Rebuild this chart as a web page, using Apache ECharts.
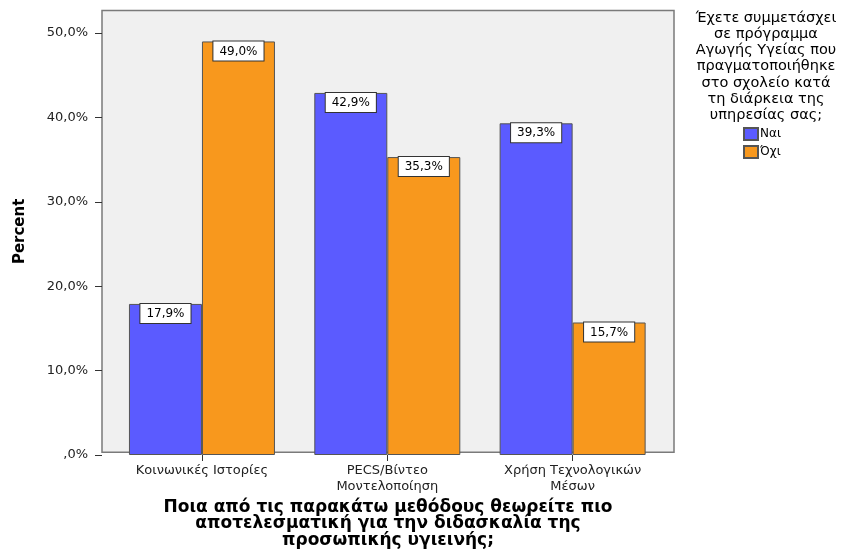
<!DOCTYPE html>
<html><head><meta charset="utf-8">
<script src="https://cdn.jsdelivr.net/npm/echarts@6/dist/echarts.min.js"></script>
<style>html,body{margin:0;padding:0;background:#fff}#c{width:855px;height:554px}</style>
</head><body><div id="c"></div>
<script>
const categories = ['Κοινωνικές Ιστορίες', 'PECS/Βίντεο\nΜοντελοποίηση', 'Χρήση Τεχνολογικών\nΜέσων'];
const seriesNames = ['Ναι', 'Όχι'];
const valuesYes = [17.9, 42.9, 39.3];
const valuesNo = [49.0, 35.3, 15.7];
const yMin = 0, yMax = 50, yInterval = 10;
const legendTitle = 'Έχετε συμμετάσχει\nσε πρόγραμμα\nΑγωγής Υγείας που\nπραγματοποιήθηκε\nστο σχολείο κατά\nτη διάρκεια της\nυπηρεσίας σας;';
const xTitle = 'Ποια από τις παρακάτω μεθόδους θεωρείτε πιο\nαποτελεσματική για την διδασκαλία της\nπροσωπικής υγιεινής;';
const yTitle = 'Percent';

const FONT = '"DejaVu Sans", "Liberation Sans", Arial, sans-serif';
const colors = ['#5B5BFF', '#F8981D'];
const fmt = v => (v === 0 ? ',0%' : v.toFixed(1).replace('.', ',') + '%');

const chart = echarts.init(document.getElementById('c'), null, {renderer: 'canvas'});
const labelStyle = {
  show: true, position: 'insideTop', distance: 0,
  formatter: p => fmt(p.value),
  fontFamily: FONT, fontSize: 12, color: '#000',
  backgroundColor: '#fff', borderColor: '#333', borderWidth: 1,
  padding: [3, 6, 2, 6], lineHeight: 14
};
chart.setOption({
  animation: false,
  textStyle: {fontFamily: FONT},
  grid: [
    {left: 102, top: 10.5, width: 572, height: 444.5, show: true, backgroundColor: '#F0F0F0', borderColor: '#7a7a7a', borderWidth: 1.5},
    {left: 109.3, top: 33, width: 556, height: 422}
  ],
  xAxis: [
    {gridIndex: 0, type: 'category', data: categories, axisLine: {show: false}, axisTick: {show: false}, axisLabel: {show: false},
     name: xTitle, nameLocation: 'middle', nameGap: 47,
     nameTextStyle: {fontFamily: FONT, fontSize: 17, fontWeight: 'bold', color: '#000', lineHeight: 16.5, align: 'center'}},
    {gridIndex: 1, type: 'category', data: categories, axisLine: {show: false},
     axisTick: {show: true, alignWithLabel: true, length: 6, lineStyle: {color: '#333'}},
     axisLabel: {fontFamily: FONT, fontSize: 13, color: '#222', margin: 8, lineHeight: 15.5}}
  ],
  yAxis: [
    {gridIndex: 0, type: 'value', min: yMin, max: yMax, axisLine: {show: false}, axisTick: {show: false}, axisLabel: {show: false}, splitLine: {show: false},
     name: yTitle, nameLocation: 'middle', nameGap: 74, nameRotate: 90,
     nameTextStyle: {fontFamily: FONT, fontSize: 15, fontWeight: 'bold', color: '#000'}},
    {gridIndex: 1, type: 'value', min: yMin, max: yMax, interval: yInterval, offset: 7.3,
     axisLine: {show: false}, splitLine: {show: false},
     axisTick: {show: true, length: 7, lineStyle: {color: '#333'}},
     axisLabel: {formatter: fmt, fontFamily: FONT, fontSize: 13, color: '#222', margin: 14}}
  ],
  legend: {
    orient: 'vertical', left: 743, top: 127, padding: 0, itemWidth: 14, itemHeight: 12, itemGap: 4,
    icon: 'rect', textStyle: {fontFamily: FONT, fontSize: 12, color: '#000', padding: [0, 0, 0, -3]},
    data: seriesNames
  },
  graphic: [{
    type: 'text', x: 766, y: 10,
    style: {text: legendTitle, align: 'center', fontFamily: FONT, fontSize: 14.5, lineHeight: 16.2, fill: '#000'}
  }],
  series: [
    {name: seriesNames[0], type: 'bar', xAxisIndex: 1, yAxisIndex: 1, data: valuesYes, barWidth: 73, barGap: '0%',
     itemStyle: {color: colors[0], borderColor: '#555', borderWidth: 1}, label: labelStyle},
    {name: seriesNames[1], type: 'bar', xAxisIndex: 1, yAxisIndex: 1, data: valuesNo, barWidth: 73, barGap: '0%',
     itemStyle: {color: colors[1], borderColor: '#555', borderWidth: 1}, label: labelStyle}
  ]
});
</script></body></html>
